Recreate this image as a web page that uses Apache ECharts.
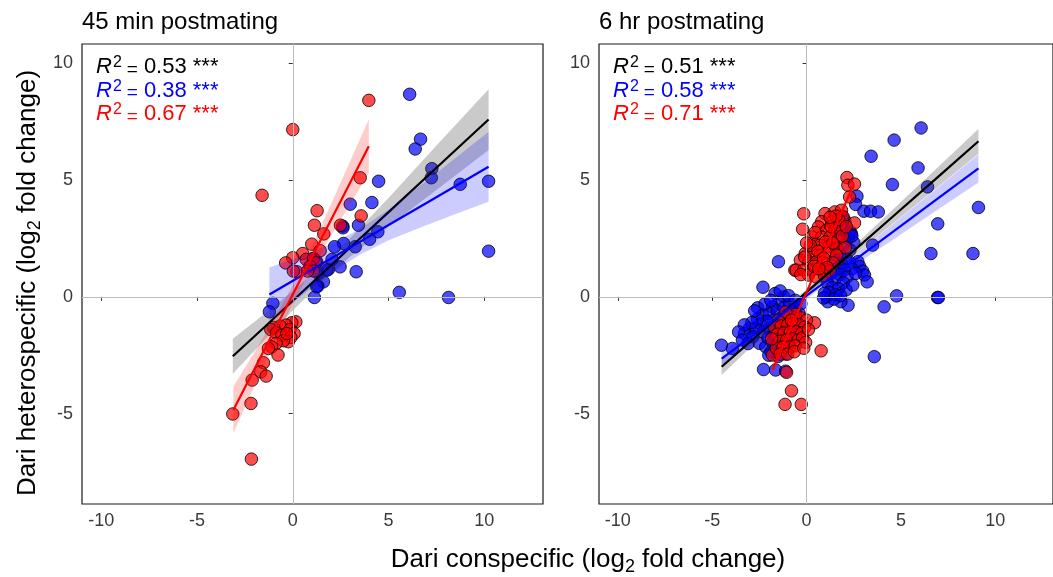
<!DOCTYPE html>
<html>
<head>
<meta charset="utf-8">
<script src="https://cdn.jsdelivr.net/npm/echarts@6/dist/echarts.min.js"></script>
<style>
  html, body { margin: 0; padding: 0; background: #ffffff; }
  #chart { width: 1053px; height: 577px; }
</style>
</head>
<body>
<div id="chart"></div>
<script>
// ---- data -------------------------------------------------------------
const panelTitles = ['45 min postmating', '6 hr postmating'];
const xTickValues = [-10, -5, 0, 5, 10];
const yTickValues = [-5, 0, 5, 10];

// R^2 labels: pooled, blue class, red class
const earlyR2 = ['0.53', '0.38', '0.67'];
const lateR2 = ['0.51', '0.58', '0.71'];
const r2Stars = ['***', '***', '***'];

// 45 min postmating: [conspecific, heterospecific] log2 fold change
const earlyBlue = [
  [6.10, 8.66], [6.67, 6.74], [6.39, 6.32], [7.26, 5.48], [7.23, 5.09], [10.22, 4.94],
  [8.74, 4.81], [4.48, 4.94], [4.13, 4.03], [3.00, 3.96], [3.43, 3.06], [2.61, 3.02],
  [4.44, 2.78], [4.01, 2.46], [3.26, 2.14], [2.65, 2.28], [2.18, 2.14], [2.47, 1.28],
  [3.31, 1.07], [1.86, 1.17], [1.60, 0.64], [1.31, 0.46], [1.13, -0.03], [5.56, 0.19],
  [8.13, -0.03], [10.22, 1.95], [-1.04, -0.28], [-1.22, -0.64], [1.08, 1.64], [1.25, 1.50],
  [1.34, 1.00], [0.91, 1.28], [1.78, 1.14], [1.25, 0.43], [2.05, 1.60], [2.62, 2.95]
];
const earlyRed = [
  [3.97, 8.40], [0.00, 7.15], [-1.60, 4.34], [3.52, 5.09], [1.27, 3.68], [3.57, 3.46],
  [1.13, 3.06], [2.49, 3.06], [1.62, 2.69], [0.99, 2.25], [0.52, 1.85], [0.00, 1.67],
  [-0.37, 1.45], [0.21, 1.07], [0.03, 1.10], [0.70, 1.60], [1.08, 1.64], [1.20, 1.45],
  [0.90, 1.30], [1.08, 1.10], [0.77, 1.10], [1.43, 1.97],
  [0.16, -1.07], [-0.05, -1.11], [-0.35, -1.21], [-0.66, -1.25], [-1.01, -1.31], [-1.15, -1.40],
  [-0.84, -1.54], [-0.57, -1.64], [-0.14, -1.40], [0.07, -1.57], [-0.10, -1.74], [-0.23, -1.92],
  [-0.49, -1.88], [-0.87, -1.99], [-1.10, -2.14], [-0.77, -2.49], [-1.27, -2.21], [-0.31, -1.57],
  [-1.53, -2.82], [-1.67, -3.21], [-1.39, -3.39], [-2.12, -3.56], [-2.18, -4.56], [-3.13, -5.01],
  [-2.16, -6.94]
];

// 6 hr postmating
const lateBlue = [
  [6.07, 7.22], [4.64, 6.70], [3.42, 6.01], [5.91, 5.51], [4.55, 4.80], [6.41, 4.70],
  [9.11, 3.82], [6.95, 3.12], [6.59, 1.85], [8.82, 1.85], [3.50, 2.21], [4.77, 0.04],
  [6.94, -0.03], [6.99, -0.03], [4.11, -0.43], [3.59, -2.56],
  [2.67, 4.30], [2.60, 3.95], [3.04, 3.66], [3.39, 3.66], [3.80, 3.63], [2.37, 2.71],
  [2.50, 2.32], [2.02, 3.28], [2.06, 3.10], [2.72, 1.50], [2.81, 1.30], [2.98, 1.10],
  [3.07, 0.93], [3.21, 0.64], [2.20, -0.36], [1.82, -0.21], [1.12, -0.21], [1.07, 0.00],
  [-1.49, 1.50], [-2.31, 0.41], [-2.59, -0.47], [-4.51, -2.07], [-3.93, -2.21], [-2.28, -3.11],
  [-1.64, -3.13], [-1.11, -3.18],
  [1.90, 3.40], [2.05, 2.95], [1.70, 2.60], [2.20, 2.50], [1.95, 2.20], [1.55, 2.05],
  [2.30, 2.00], [1.75, 1.80], [2.05, 1.65], [1.40, 1.55], [1.85, 1.40], [2.25, 1.50],
  [1.60, 1.20], [2.00, 1.15], [2.40, 1.20], [1.30, 1.00], [1.75, 0.95], [2.15, 0.85],
  [1.50, 0.75], [1.95, 0.60], [1.10, 0.60], [1.35, 0.40], [1.70, 0.35], [2.10, 0.30],
  [1.20, 0.20], [1.55, 0.10], [0.95, 0.15], [1.45, -0.10], [1.80, 0.05], [0.90, -0.05],
  [2.45, 0.50], [2.60, 1.00], [1.68, 2.85], [2.30, 2.80], [2.40, 2.60],
  [-1.67, 0.14], [-1.20, 0.00], [-1.46, -0.28], [-1.81, -0.43], [-2.33, -0.78], [-1.98, -0.71],
  [-1.55, -0.60], [-1.20, -0.45], [-0.90, -0.30], [-0.65, -0.50], [-1.00, -0.75], [-1.35, -0.90],
  [-1.75, -1.00], [-2.10, -1.05], [-2.45, -1.15], [-3.03, -1.35], [-3.29, -1.57], [-2.68, -1.35],
  [-2.85, -1.71], [-2.50, -1.99], [-2.16, -2.14], [-1.89, -2.35], [-1.46, -2.35], [-2.30, -1.50],
  [-1.95, -1.40], [-1.60, -1.30], [-1.25, -1.20], [-0.85, -1.10], [-0.55, -0.95], [-0.40, -0.70],
  [-2.05, -1.75], [-1.70, -1.65], [-1.35, -1.55], [-1.00, -1.45], [-0.70, -1.35], [-1.80, -1.95],
  [-1.45, -1.90], [-1.10, -1.80], [-0.80, -1.70], [-1.25, -2.15], [-0.95, -2.05], [-1.60, -2.10],
  [-2.60, -0.95], [-2.90, -1.10], [-3.30, -1.20], [-3.60, -1.50], [-2.75, -0.60], [-1.40, 0.25],
  [-0.95, 0.05], [-0.60, -0.15], [-1.10, -2.45], [-1.50, -2.55], [-2.00, -2.50], [-3.40, -1.85],
  [-3.10, -2.00], [-0.50, -1.50], [-0.35, -1.20], [-0.30, -0.30], [-2.20, -0.30], [-1.90, -0.15]
];
const lateRed = [
  [2.14, 5.10], [2.19, 4.77], [2.54, 4.82], [2.28, 4.27], [-0.15, 3.55], [-0.21, 2.89],
  [2.54, 3.16], [-0.62, 1.14], [0.42, -1.11], [0.77, -2.31], [-0.80, -4.02], [-1.14, -4.60],
  [-0.28, -4.60], [-1.81, -2.49], [-1.06, -3.23],
  [0.98, 3.56], [1.50, 3.63], [1.85, 3.70], [1.94, 3.42], [0.80, 3.21], [1.33, 3.21],
  [1.76, 3.06], [0.63, 2.99], [1.07, 2.85], [1.50, 2.85], [0.28, 2.56], [0.80, 2.56],
  [1.24, 2.56], [1.68, 2.42], [0.37, 2.28], [0.72, 2.21], [1.15, 2.14], [1.59, 2.07],
  [2.05, 2.10], [-0.07, 1.85], [0.28, 1.85], [0.72, 1.78], [1.15, 1.85], [1.59, 1.78],
  [-0.33, 1.57], [0.11, 1.50], [0.54, 1.50], [0.98, 1.42], [1.41, 1.45], [-0.55, 1.14],
  [-0.15, 1.14], [0.28, 1.14], [0.80, 1.14], [1.24, 1.10], [0.10, 0.93], [0.50, 0.85],
  [0.95, 0.90], [-0.30, 0.95], [0.20, 2.20], [0.45, 2.75], [1.30, 3.00], [1.70, 3.30],
  [0.00, 2.30], [-0.10, 1.70], [0.60, 1.95], [1.00, 2.35], [1.40, 2.30], [1.90, 2.60],
  [2.10, 3.00], [0.90, 1.65], [0.40, 1.30], [1.10, 1.25], [0.65, 1.20], [1.55, 3.45],
  [1.25, 3.40],
  [-1.50, -1.00], [-1.20, -0.90], [-0.90, -0.80], [-0.60, -0.75], [-0.30, -0.90], [0.00, -1.00],
  [-1.70, -1.30], [-1.35, -1.25], [-1.00, -1.20], [-0.70, -1.15], [-0.40, -1.20], [-0.10, -1.30],
  [-1.55, -1.60], [-1.20, -1.55], [-0.85, -1.50], [-0.55, -1.50], [-0.25, -1.55], [-1.40, -1.90],
  [-1.05, -1.85], [-0.75, -1.80], [-0.45, -1.85], [-0.20, -1.75], [-1.60, -2.20], [-1.25, -2.15],
  [-0.90, -2.15], [-0.60, -2.10], [-1.40, -2.45], [-1.00, -2.45], [-0.65, -2.35], [-1.85, -1.80],
  [-0.05, -1.95], [0.10, -1.40], [-0.15, -2.20], [-1.10, -0.65], [-0.80, -1.00]
];

// Linear fits with 95% confidence band: [x, fit, lower, upper]
const earlyFitAll = [
  [-3.13, -2.54, -3.29, -1.79], [-1.5, -1.31, -1.87, -0.75], [0, -0.17, -0.59, 0.25],
  [1.5, 0.97, 0.62, 1.32], [3, 2.11, 1.71, 2.51], [5, 3.62, 3.02, 4.22],
  [7.5, 5.52, 4.57, 6.47], [10.22, 7.58, 6.28, 8.88]
];
const earlyFitBlue = [
  [-1.22, 0.10, -1.05, 1.25], [0.5, 0.92, 0.07, 1.77], [2, 1.64, 1.02, 2.26],
  [3.5, 2.35, 1.80, 2.90], [5, 3.07, 2.42, 3.72], [7, 4.02, 3.07, 4.97],
  [8.5, 4.74, 3.54, 5.94], [10.22, 5.56, 4.06, 7.06]
];
const earlyFitRed = [
  [-3.10, -4.84, -5.84, -3.84], [-2, -3.09, -3.81, -2.37], [-1, -1.49, -1.99, -0.99],
  [0, 0.10, -0.30, 0.50], [1, 1.70, 1.22, 2.18], [2, 3.29, 2.61, 3.97],
  [3, 4.89, 3.97, 5.81], [3.97, 6.44, 5.29, 7.59]
];
const lateFitAll = [
  [-4.5, -2.99, -3.34, -2.64], [-2, -1.22, -1.42, -1.02], [0, 0.20, 0.08, 0.32],
  [2, 1.61, 1.44, 1.78], [4.5, 3.38, 3.08, 3.68], [7, 5.15, 4.73, 5.57],
  [9.11, 6.65, 6.12, 7.18]
];
const lateFitBlue = [
  [-4.5, -2.64, -2.94, -2.34], [-2, -1.15, -1.33, -0.97], [0, 0.05, -0.07, 0.17],
  [2, 1.24, 1.06, 1.42], [4.5, 2.73, 2.40, 3.06], [7, 4.23, 3.75, 4.71],
  [9.11, 5.49, 4.89, 6.09]
];
const lateFitRed = [
  [-1.81, -3.13, -3.43, -2.83], [-1, -1.64, -1.82, -1.46], [0, 0.20, 0.10, 0.30],
  [1, 2.04, 1.89, 2.19], [2.45, 4.71, 4.41, 5.01]
];

// ---- styling ----------------------------------------------------------
const FONT = '"Liberation Sans", Arial, Helvetica, sans-serif';
const INK = { all: '#000000', blue: '#0000ff', red: '#ff0000' };
const FILL = { blue: 'rgba(0,0,255,0.88)', red: 'rgba(255,0,0,0.88)' };
const BAND = { all: 'rgba(60,60,60,0.27)', blue: 'rgba(0,0,255,0.2)', red: 'rgba(255,0,0,0.2)' };
const GRIDS = [
  { left: 82, top: 44, width: 461, height: 460 },
  { left: 599, top: 44, width: 461, height: 460 }
];
const X_RANGE = [-11, 13.06];
const Y_RANGE = [-8.86, 10.81];

const panels = [
  { blue: earlyBlue, red: earlyRed, fits: [earlyFitAll, earlyFitBlue, earlyFitRed], r2: earlyR2 },
  { blue: lateBlue, red: lateRed, fits: [lateFitAll, lateFitBlue, lateFitRed], r2: lateR2 }
];

const grid = [], xAxis = [], yAxis = [], series = [], graphic = [];

panels.forEach(function (p, i) {
  const g = GRIDS[i];
  grid.push(Object.assign({ show: true, borderColor: '#1a1a1a', borderWidth: 1.2,
    backgroundColor: 'transparent', containLabel: false }, g));

  xAxis.push({
    type: 'value', gridIndex: i, min: X_RANGE[0], max: X_RANGE[1],
    axisLine: { show: false }, splitLine: { show: false },
    axisTick: { show: true, length: 4, customValues: xTickValues, lineStyle: { color: '#333', width: 1 } },
    axisLabel: { customValues: xTickValues, color: '#3a3a3a', fontSize: 18, fontFamily: FONT, margin: 8 }
  });
  yAxis.push({
    type: 'value', gridIndex: i, min: Y_RANGE[0], max: Y_RANGE[1],
    axisLine: { show: false }, splitLine: { show: false },
    axisTick: { show: true, length: 4, customValues: yTickValues, lineStyle: { color: '#333', width: 1 } },
    axisLabel: { customValues: yTickValues, color: '#3a3a3a', fontSize: 18, fontFamily: FONT, margin: 9 }
  });

  // zero reference lines
  series.push({
    type: 'line', xAxisIndex: i, yAxisIndex: i, data: [], z: 1, silent: true,
    markLine: {
      silent: true, symbol: ['none', 'none'], label: { show: false },
      lineStyle: { color: '#bdbdbd', width: 1, type: 'solid' },
      data: [{ xAxis: 0 }, { yAxis: 0 }]
    }
  });

  ['blue', 'red'].forEach(function (k) {
    series.push({
      type: 'scatter', xAxisIndex: i, yAxisIndex: i, z: 2, data: p[k], symbolSize: 12.5,
      itemStyle: { color: FILL[k], borderColor: '#000', borderWidth: 1 }
    });
  });

  ['all', 'blue', 'red'].forEach(function (k, j) {
    const rows = p.fits[j];
    series.push({
      type: 'custom', xAxisIndex: i, yAxisIndex: i, z: 3 + j * 2, silent: true,
      data: [[rows[0][0], rows[0][1]]],
      renderItem: function (params, api) {
        const pts = [];
        rows.forEach(function (r) { pts.push(api.coord([r[0], r[3]])); });
        rows.slice().reverse().forEach(function (r) { pts.push(api.coord([r[0], r[2]])); });
        return { type: 'polygon', shape: { points: pts }, style: { fill: BAND[k] } };
      }
    });
    series.push({
      type: 'line', xAxisIndex: i, yAxisIndex: i, z: 4 + j * 2, silent: true,
      data: rows.map(function (r) { return [r[0], r[1]]; }),
      showSymbol: false, lineStyle: { color: INK[k], width: 2.2 }
    });
  });

  // panel title
  graphic.push({
    type: 'text', x: g.left, y: 22, silent: true,
    style: { text: panelTitles[i], fill: '#000', font: '24px ' + FONT, align: 'left', verticalAlign: 'middle' }
  });

  // R^2 annotations
  ['all', 'blue', 'red'].forEach(function (k, j) {
    graphic.push({
      type: 'text', x: g.left + 14, y: 67 + j * 23.5, silent: true,
      style: {
        text: '{r|R}{p|2}{e|=}{v|' + p.r2[j] + ' ' + r2Stars[j] + '}',
        fill: INK[k], align: 'left', verticalAlign: 'middle',
        rich: {
          r: { fontFamily: FONT, fontStyle: 'italic', fontSize: 22, lineHeight: 24, fill: INK[k], color: INK[k] },
          p: { fontFamily: FONT, fontSize: 16, lineHeight: 11, verticalAlign: 'top', padding: [0, 0, 0, 1], fill: INK[k], color: INK[k] },
          e: { fontFamily: FONT, fontSize: 19, lineHeight: 20, verticalAlign: 'bottom', padding: [0, 6, 0, 5], fill: INK[k], color: INK[k] },
          v: { fontFamily: FONT, fontSize: 22, lineHeight: 24, fill: INK[k], color: INK[k] }
        }
      }
    });
  });
});

// axis titles with subscript 2
const titleRich = {
  m: { fontFamily: FONT, fontSize: 26, lineHeight: 32, fill: '#000', color: '#000' },
  s: { fontFamily: FONT, fontSize: 18, lineHeight: 17, verticalAlign: 'bottom', fill: '#000', color: '#000' }
};
graphic.push({
  type: 'text', x: 588, y: 560, silent: true,
  style: { text: '{m|Dari conspecific (log}{s|2}{m| fold change)}', rich: titleRich, align: 'center', verticalAlign: 'middle' }
});
graphic.push({
  type: 'text', x: 28, y: 283, rotation: Math.PI / 2, silent: true,
  style: { text: '{m|Dari heterospecific (log}{s|2}{m| fold change)}', rich: titleRich, align: 'center', verticalAlign: 'middle' }
});

const chart = echarts.init(document.getElementById('chart'), null, { renderer: 'canvas' });
chart.setOption({
  animation: false,
  backgroundColor: '#ffffff',
  textStyle: { fontFamily: FONT },
  grid: grid, xAxis: xAxis, yAxis: yAxis, series: series, graphic: graphic
});
</script>
</body>
</html>
